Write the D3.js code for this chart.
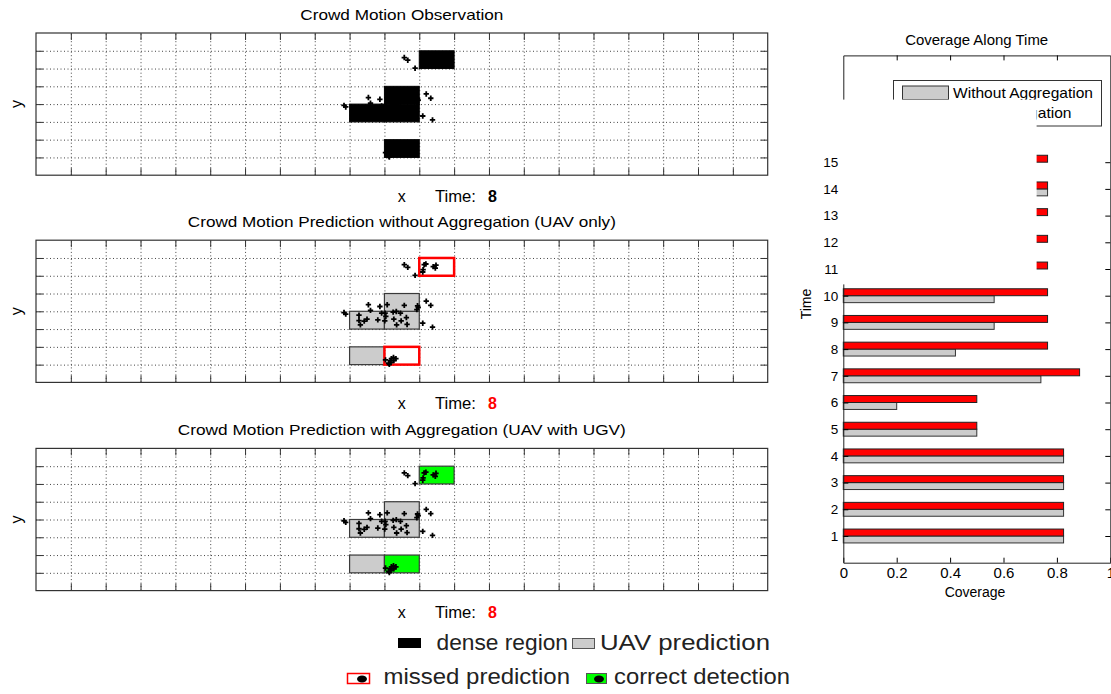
<!DOCTYPE html>
<html>
<head>
<meta charset="utf-8">
<script src="https://cdn.jsdelivr.net/npm/d3@7"></script>
<style>
  body { margin: 0; background: #fff; }
  svg { display: block; font-family: 'Liberation Sans', Arial, sans-serif; }
</style>
</head>
<body>
<div id="chart"></div>
<script>
// grid cells [col, row] on the 21 x 8 field
const denseCells = [[11, 6], [10, 3], [10, 4], [9, 3], [10, 1]];
const uavCells = [[9, 3], [10, 3], [10, 4], [9, 1]];
const missedCells = [[11, 6], [10, 1]];

// crowd positions (same people in all three panels)
const crowdX = [10.57, 10.67, 10.88, 11.14, 11.19, 11.11, 11.10, 11.40, 11.48, 11.46,
  8.84, 8.89, 9.54, 9.87, 10.08, 10.57, 10.95, 10.97, 10.93, 11.20, 11.33, 9.60,
  9.50, 9.27, 9.27, 9.42, 9.31, 9.81, 9.92, 10.02, 10.04, 10.01, 10.25, 10.34, 10.46,
  10.27, 10.35, 10.48, 10.63, 10.65, 11.10, 11.38,
  10.03, 10.12, 10.18, 10.20, 10.26, 10.33, 10.27, 10.17, 10.14];
const crowdY = [6.62, 6.47, 6.02, 6.62, 6.66, 6.34, 6.21, 6.51, 6.60, 6.43,
  3.93, 3.84, 4.37, 4.27, 4.37, 4.33, 4.31, 4.22, 4.10, 4.57, 4.33, 4.05,
  3.56, 3.78, 3.48, 3.45, 3.24, 3.52, 3.90, 3.90, 3.71, 3.46, 3.95, 3.99, 3.90,
  3.56, 3.24, 3.46, 3.65, 3.26, 3.33, 3.11,
  1.27, 1.08, 1.12, 1.34, 1.40, 1.34, 1.23, 1.23, 1.02];

const timeStep = 8;

// coverage chart
const timeSteps = [1, 2, 3, 4, 5, 6, 7, 8, 9, 10, 11, 12, 13, 14, 15];
const withoutAgg = [0.825, 0.825, 0.825, 0.825, 0.5, 0.2, 0.74, 0.42, 0.565, 0.565, 0.6, 0.6, 0.6, 0.765, 0.6];
const withAgg = [0.825, 0.825, 0.825, 0.825, 0.5, 0.5, 0.885, 0.765, 0.765, 0.765, 0.765, 0.765, 0.765, 0.765, 0.765];
const seriesNames = ['Without Aggregation', 'With Aggregation'];

// -----------------------------------------------
const W = 1111, H = 694;
const svg = d3.select('#chart').append('svg')
  .attr('width', W).attr('height', H)
  .attr('viewBox', [0, 0, W, H]);

const gx = d3.scaleLinear().domain([0, 21]).range([36, 767.7]);
const crowd = crowdX.map((x, i) => ({ x: x, y: crowdY[i] }));
const plus = d3.symbol(d3.symbolCross, 16);

let drawCells = (g, cells, y, fill, stroke, sw) => {
  g.append('g').selectAll('rect').data(cells).join('rect')
    .attr('x', (d) => gx(d[0]))
    .attr('y', (d) => y(d[1] + 1))
    .attr('width', (d) => gx(d[0] + 1) - gx(d[0]))
    .attr('height', (d) => y(d[1]) - y(d[1] + 1))
    .attr('fill', fill)
    .attr('stroke', stroke)
    .attr('stroke-width', sw);
};

let drawCrowd = (g, y) => {
  g.append('g').selectAll('path').data(crowd).join('path')
    .attr('transform', (d) => `translate(${gx(d.x)},${y(d.y)})`)
    .attr('d', plus)
    .attr('fill', '#000');
};

let panel = (top, title, titleW, kind) => {
  const y = d3.scaleLinear().domain([0, 8]).range([top + 142.2, top]);
  const g = svg.append('g');
  const x0 = gx(0), x1 = gx(21), y0 = y(0), y1 = y(8);

  // dotted grid
  g.append('g').attr('transform', `translate(0,${y0})`)
    .call(d3.axisBottom(gx).tickValues(d3.range(1, 21)).tickSize(-(y0 - y1)).tickFormat(''))
    .call((a) => a.select('.domain').remove())
    .call((a) => a.selectAll('line').attr('stroke', '#444').attr('stroke-dasharray', '1,2.5'));
  g.append('g').attr('transform', `translate(${x0},0)`)
    .call(d3.axisLeft(y).tickValues(d3.range(1, 8)).tickSize(-(x1 - x0)).tickFormat(''))
    .call((a) => a.select('.domain').remove())
    .call((a) => a.selectAll('line').attr('stroke', '#444').attr('stroke-dasharray', '1,2.5'));

  if (kind === 'obs') {
    drawCrowd(g, y);
    drawCells(g, denseCells, y, '#000', '#000', 1);
  } else {
    drawCells(g, uavCells, y, '#cccccc', '#3a3a3a', 1.2);
    if (kind === 'uav') drawCells(g, missedCells, y, 'none', '#ff0000', 2.5);
    else drawCells(g, missedCells, y, '#00ff00', '#3a3a3a', 1.2);
    drawCrowd(g, y);
  }

  // inward ticks on all four sides
  const tick = (axis, tr) => g.append('g').attr('transform', tr)
    .call(axis.tickSize(-7).tickFormat(''))
    .call((a) => a.select('.domain').remove())
    .call((a) => a.selectAll('line').attr('stroke', '#333'));
  tick(d3.axisBottom(gx).tickValues(d3.range(1, 21)), `translate(0,${y0})`);
  tick(d3.axisTop(gx).tickValues(d3.range(1, 21)), `translate(0,${y1})`);
  tick(d3.axisLeft(y).tickValues(d3.range(1, 8)), `translate(${x0},0)`);
  tick(d3.axisRight(y).tickValues(d3.range(1, 8)), `translate(${x1},0)`);

  g.append('rect').attr('x', x0).attr('y', y1)
    .attr('width', x1 - x0).attr('height', y0 - y1)
    .attr('fill', 'none').attr('stroke', '#333').attr('stroke-width', 1.2);

  const cxm = (x0 + x1) / 2;
  g.append('text').attr('x', cxm).attr('y', y1 - 13)
    .attr('text-anchor', 'middle').attr('font-size', 15)
    .attr('textLength', titleW).attr('lengthAdjust', 'spacingAndGlyphs')
    .text(title);
  g.append('text').attr('transform', `translate(22,${(y0 + y1) / 2}) rotate(-90)`)
    .attr('text-anchor', 'middle').attr('font-size', 16).text('y');
  g.append('text').attr('x', cxm).attr('y', y0 + 27)
    .attr('text-anchor', 'middle').attr('font-size', 16).text('x');
  g.append('text').attr('x', 435).attr('y', y0 + 27)
    .attr('font-size', 16).attr('textLength', 41).attr('lengthAdjust', 'spacingAndGlyphs')
    .text('Time:');
  g.append('text').attr('x', 488).attr('y', y0 + 27)
    .attr('font-size', 16).attr('font-weight', 'bold')
    .attr('fill', kind === 'obs' ? '#000' : '#ff0000').text(timeStep);
};

panel(33, 'Crowd Motion Observation', 203, 'obs');
panel(240.2, 'Crowd Motion Prediction without Aggregation (UAV only)', 428, 'uav');
panel(448.4, 'Crowd Motion Prediction with Aggregation (UAV with UGV)', 448, 'agg');

// -----------------------------------------------
// bottom legend
const leg = svg.append('g').attr('font-size', 22.5).attr('fill', '#222');
const legText = (x, y, w, s) => leg.append('text').attr('x', x).attr('y', y)
  .attr('textLength', w).attr('lengthAdjust', 'spacingAndGlyphs').text(s);
leg.append('rect').attr('x', 398).attr('y', 638).attr('width', 23).attr('height', 10).attr('fill', '#000');
legText(436.5, 650, 131.5, 'dense region');
leg.append('rect').attr('x', 572.5).attr('y', 638.5).attr('width', 22).attr('height', 10)
  .attr('fill', '#cccccc').attr('stroke', '#555');
legText(600, 650, 170, 'UAV prediction');
leg.append('rect').attr('x', 347.5).attr('y', 673.5).attr('width', 22).attr('height', 10)
  .attr('fill', '#fff').attr('stroke', '#ff0000').attr('stroke-width', 1.5);
leg.append('ellipse').attr('cx', 362).attr('cy', 679).attr('rx', 5).attr('ry', 3.5).attr('fill', '#000');
legText(383.5, 684, 186.5, 'missed prediction');
leg.append('rect').attr('x', 586.5).attr('y', 673.5).attr('width', 20).attr('height', 10)
  .attr('fill', '#00ff00').attr('stroke', '#555');
leg.append('ellipse').attr('cx', 599).attr('cy', 679).attr('rx', 5).attr('ry', 3.5).attr('fill', '#000');
legText(614, 684, 176, 'correct detection');

// -----------------------------------------------
// coverage along time (horizontal grouped bars)
const cx = d3.scaleLinear().domain([0, 1]).range([843.3, 1110.3]);
const cy = d3.scaleLinear().domain([0, 19]).range([562.7, 55.4]);
const barH = 0.26;
const cov = svg.append('g');

cov.append('g').selectAll('rect').data(timeSteps).join('rect')
  .attr('x', cx(0))
  .attr('y', (d) => cy(d))
  .attr('width', (d, i) => cx(withoutAgg[i]) - cx(0))
  .attr('height', cy(0) - cy(barH))
  .attr('fill', '#cccccc').attr('stroke', '#333').attr('stroke-width', 1);
cov.append('g').selectAll('rect').data(timeSteps).join('rect')
  .attr('x', cx(0))
  .attr('y', (d) => cy(d + barH))
  .attr('width', (d, i) => cx(withAgg[i]) - cx(0))
  .attr('height', cy(0) - cy(barH))
  .attr('fill', '#ff0000').attr('stroke', '#222').attr('stroke-width', 1);

cov.append('g').attr('transform', `translate(0,${cy(0)})`)
  .call(d3.axisBottom(cx).tickValues([0, 0.2, 0.4, 0.6, 0.8, 1]).tickFormat(d3.format('~g'))
    .tickSize(-5).tickPadding(5).tickSizeOuter(0))
  .call((a) => a.attr('font-family', null).attr('font-size', 15));
cov.append('g').attr('transform', `translate(0,${cy(19)})`)
  .call(d3.axisTop(cx).tickValues([0.2, 0.4, 0.6, 0.8]).tickSize(-5).tickFormat('').tickSizeOuter(0));
cov.append('g').attr('transform', `translate(${cx(0)},0)`)
  .call(d3.axisLeft(cy).tickValues(timeSteps).tickSize(-5).tickPadding(5).tickSizeOuter(0))
  .call((a) => a.attr('font-family', null).attr('font-size', 13.5));
cov.append('g').attr('transform', `translate(${cx(1)},0)`)
  .call(d3.axisRight(cy).tickValues(timeSteps).tickSize(-5).tickFormat('').tickSizeOuter(0));
cov.selectAll('.domain').attr('stroke', '#222');

cov.append('text').attr('x', 976.7).attr('y', 45)
  .attr('text-anchor', 'middle').attr('font-size', 14)
  .attr('textLength', 143).attr('lengthAdjust', 'spacingAndGlyphs').text('Coverage Along Time');
cov.append('text').attr('x', 975).attr('y', 597)
  .attr('text-anchor', 'middle').attr('font-size', 14).text('Coverage');
cov.append('text').attr('transform', 'translate(811,304) rotate(-90)')
  .attr('text-anchor', 'middle').attr('font-size', 14).text('Time');

// legend box
const lg = cov.append('g');
lg.append('rect').attr('x', 893.5).attr('y', 80.5).attr('width', 208).attr('height', 45.5)
  .attr('fill', '#fff').attr('stroke', '#333');
lg.selectAll('.sw').data(seriesNames).join('rect')
  .attr('x', 902.5).attr('y', (d, i) => 86 + i * 20)
  .attr('width', 46).attr('height', 13.5)
  .attr('fill', (d, i) => (i === 0 ? '#cccccc' : '#ff0000'))
  .attr('stroke', '#333');
lg.selectAll('text').data(seriesNames).join('text')
  .attr('x', 953).attr('y', (d, i) => 98 + i * 20)
  .attr('font-size', 15)
  .attr('textLength', (d, i) => (i === 0 ? 140 : 118.5)).attr('lengthAdjust', 'spacingAndGlyphs')
  .text((d) => d);

// white patch that hides part of the coverage plot, as in the source figure
cov.append('rect').attr('x', 839).attr('y', 99.6)
  .attr('width', 197.6).attr('height', 184.8).attr('fill', '#fff');
</script>
</body>
</html>
